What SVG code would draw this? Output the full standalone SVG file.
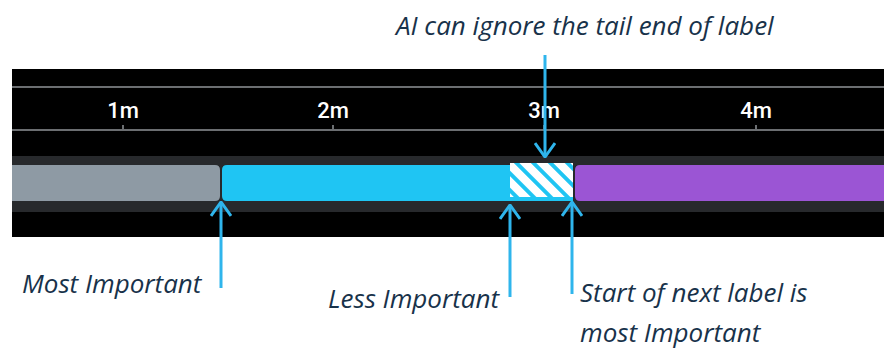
<svg xmlns="http://www.w3.org/2000/svg" width="884" height="349" viewBox="0 0 884 349">
<style>
.tick{font-family:Roboto,"Liberation Sans",sans-serif;font-size:22px;font-weight:500;fill:#ffffff;text-anchor:middle}
.note{font-family:"Open Sans","Liberation Sans",sans-serif;font-style:italic;font-size:26px;fill:#18324a}
.arrow{stroke:#2fb5ec;stroke-width:3;fill:none}
.axis{stroke:#6b6e71;stroke-width:2}
</style>
<defs>
<pattern id="hatch" patternUnits="userSpaceOnUse" width="12" height="12" patternTransform="rotate(45)">
<rect width="12" height="12" fill="#ffffff"/>
<rect width="12" height="4" fill="#1fc5f3"/>
</pattern>
<marker id="head" viewBox="0 0 16 22" refX="15" refY="11" markerWidth="16" markerHeight="22" markerUnits="userSpaceOnUse" orient="auto">
<path d="M1 1 L15 11 L1 21" stroke="#2fb5ec" stroke-width="3" fill="none"/>
</marker>
</defs>
<rect width="884" height="349" fill="#ffffff"/>
<g id="timeline">
<rect x="12" y="69" width="872" height="168" fill="#000000"/>
<line class="axis" x1="12" y1="87" x2="884" y2="87"/>
<line class="axis" x1="12" y1="130" x2="884" y2="130"/>
<line class="axis" x1="123" y1="125" x2="123" y2="130"/>
<line class="axis" x1="333" y1="125" x2="333" y2="130"/>
<line class="axis" x1="544" y1="125" x2="544" y2="130"/>
<line class="axis" x1="756" y1="125" x2="756" y2="130"/>
<text class="tick" x="123" y="118">1m</text>
<text class="tick" x="333" y="118">2m</text>
<text class="tick" x="544" y="118">3m</text>
<text class="tick" x="756" y="118">4m</text>
<rect x="12" y="156" width="872" height="56" fill="#27292c"/>
</g>
<g id="segment-gray">
<path d="M12 165 H215 Q220 165 220 170 V196 Q220 201 215 201 H12 Z" fill="#8e9aa4"/>
</g>
<g id="segment-cyan">
<path d="M227 165 H573 V201 H227 Q222 201 222 196 V170 Q222 165 227 165 Z" fill="#1fc5f3"/>
</g>
<g id="segment-hatch">
<rect x="510" y="163" width="63" height="34" fill="url(#hatch)"/>
</g>
<g id="segment-purple">
<path d="M580 165 H884 V201 H580 Q575 201 575 196 V170 Q575 165 580 165 Z" fill="#9b55d4"/>
</g>
<g id="connectors">
<line class="arrow" x1="221" y1="288" x2="221" y2="202" marker-end="url(#head)"/>
<line class="arrow" x1="510" y1="297" x2="510" y2="205" marker-end="url(#head)"/>
<line class="arrow" x1="572" y1="294" x2="572" y2="202" marker-end="url(#head)"/>
<line class="arrow" x1="545" y1="55" x2="545" y2="157" marker-end="url(#head)"/>
</g>
<g id="label-top">
<text class="note" x="396" y="35">AI can ignore the tail end of label</text>
</g>
<g id="label-most">
<text class="note" x="22" y="293">Most Important</text>
</g>
<g id="label-less">
<text class="note" x="328" y="308">Less Important</text>
</g>
<g id="label-next">
<text class="note" x="580" y="302">Start of next label is</text>
<text class="note" x="580" y="342">most Important</text>
</g>
</svg>
